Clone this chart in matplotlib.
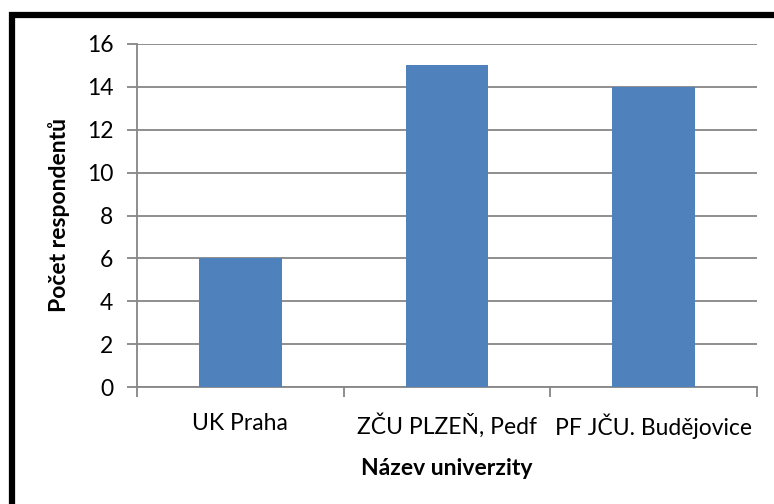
import numpy as np
import matplotlib.pyplot as plt
from matplotlib.patches import Rectangle

plt.rcParams['font.family'] = ['Lato', 'DejaVu Sans']

universities = ['UK Praha', 'ZČU PLZEŇ, Pedf', 'PF JČU. Budějovice']
respondents = [6, 15, 14]
yticks = np.arange(0, 17, 2)

W, H = 774, 504
fig = plt.figure(figsize=(W / 100, H / 100), dpi=100)
ax = fig.add_axes([137 / W, 1 - 387 / H, 620 / W, 343 / H])

grey = '#868686'
fs = 16.5
x = np.arange(len(universities))
ax.bar(x, respondents, width=0.4, color='#4F81BD', zorder=3)

ax.set_xlim(-0.5, len(universities) - 0.5)
ax.set_ylim(0, 16)
ax.set_yticks(yticks)
ax.yaxis.grid(True, color=grey, lw=1.3, zorder=0)

ax.set_xticks(x)
ax.set_xticklabels(universities, fontsize=fs)
ax.set_xticks(np.arange(-0.5, len(universities)), minor=True)
ax.tick_params(axis='x', which='major', length=0, pad=19)
ax.tick_params(axis='x', which='minor', length=7, width=1.3, color=grey)
ax.tick_params(axis='y', labelsize=fs, length=7, width=1.3, color=grey, pad=10)

for s in ['top', 'right']:
    ax.spines[s].set_visible(False)
for s in ['left', 'bottom']:
    ax.spines[s].set_color(grey)
    ax.spines[s].set_linewidth(1.3)

ax.set_xlabel('Název univerzity', fontsize=fs, fontweight='bold', labelpad=14)
ax.set_ylabel('Počet respondentů', fontsize=fs, fontweight='bold', labelpad=12)

# chart frame (only left and top edges are visible in the crop)
fig.patches.append(Rectangle((12 / W, -0.5), 2, 1.5 - 15 / H,
                             transform=fig.transFigure, fill=False,
                             edgecolor='black', lw=4.5))

fig.savefig('out.png', dpi=100)
